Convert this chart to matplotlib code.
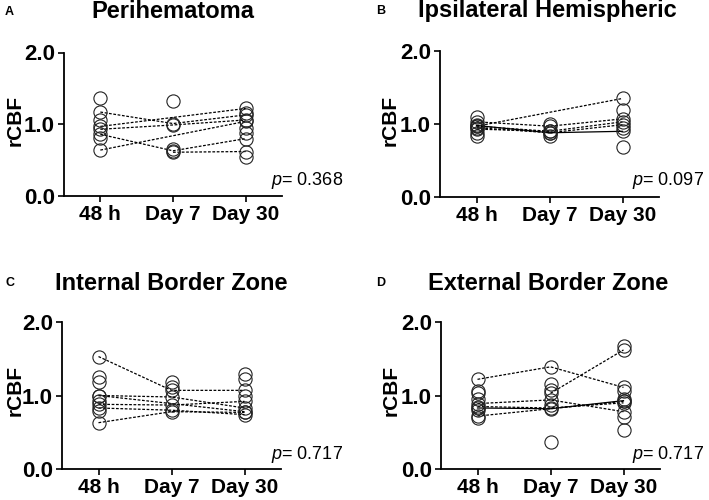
import numpy as np
import matplotlib.pyplot as plt

nan = np.nan

# categorias del eje x
grupos = ["48 h", "Day 7", "Day 30"]

# cada indice = un paciente (48 h, dia 7, dia 30); nan = sin medida
a_48h = [1.17, 0.97, 0.93, 0.86, 0.64, nan]
a_d7 = [1.01, nan, 0.99, 0.63, nan, 0.61]
a_d30 = [1.13, 1.22, 1.06, 0.80, 1.04, 0.62]
a_sueltos = [[1.37, 1.06, 0.81], [1.32, 0.66], [1.16, 0.95, 0.88, 0.54]]

b_48h = [0.97, 1.03, 0.97, 0.95, 0.98, 0.93]
b_d7 = [nan, 0.97, 0.90, 0.88, 0.88, 0.90]
b_d30 = [1.35, 1.07, 1.03, 0.99, 0.90, nan]
b_sueltos = [[1.09, 0.87, 0.83], [0.83, 1.00], [1.19, 0.95, 0.69]]

c_48h = [1.53, 1.00, 1.00, 0.88, 0.83, 0.63]
c_d7 = [1.07, nan, 0.98, 0.87, 0.80, 0.78]
c_d30 = [1.07, 0.78, 0.83, 0.92, 0.74, 0.77]
c_sueltos = [[1.25, 1.18, 0.92, 0.79], [1.18, 1.12], [1.29, 1.23, 1.00]]

d_48h = [1.22, nan, 0.89, 0.83, 0.85, 0.72]
d_d7 = [1.39, 1.03, 0.94, 0.82, 0.83, nan]
d_d30 = [1.11, 1.62, 0.78, 0.93, 0.90, 0.92]
d_sueltos = [[1.06, 1.03, 0.95, 0.80, 0.69], [1.16, 1.08, 0.87, 0.37],
             [1.68, 1.06, 0.71, 0.53, 0.95]]

titulos = ["Perihematoma", "Ipsilateral Hemispheric",
           "Internal Border Zone", "External Border Zone"]
letras = ["A", "B", "C", "D"]
p_valores = ["0.368", "0.097", "0.717", "0.717"]

plt.rcParams['font.family'] = ['Liberation Sans', 'DejaVu Sans']
plt.rcParams['mathtext.fontset'] = 'custom'
plt.rcParams['mathtext.it'] = 'Liberation Sans:italic'
plt.rcParams['mathtext.rm'] = 'Liberation Sans'

W, H = 709, 500
fig = plt.figure(figsize=(W / 100, H / 100), dpi=100)


def ejes_px(izq, arriba, der, abajo):
    return fig.add_axes([izq / W, 1 - abajo / H, (der - izq) / W, (abajo - arriba) / H])


def panel(ax, v48, v7, v30, sueltos, solida=None):
    x = np.arange(3)
    estilo = dict(color='black', lw=0.9, marker='o', ms=9.5, mfc='none',
                  mec='#222222', mew=0.8)
    for i, vals in enumerate(zip(v48, v7, v30)):
        vals = np.array(vals, dtype=float)
        ok = ~np.isnan(vals)
        ls = '-' if i == solida else (0, (2.2, 1.3))
        ax.plot(x[ok], vals[ok], linestyle=ls, **estilo)
    for xi, pts in enumerate(sueltos):
        ax.plot([xi] * len(pts), pts, linestyle='none', **estilo)
    ax.set_xlim(-0.5, 2.5)
    ax.set_ylim(0, 2)
    for s in ['top', 'right']:
        ax.spines[s].set_visible(False)
    for s in ['left', 'bottom']:
        ax.spines[s].set_linewidth(1.3)
    ax.set_yticks([0, 1, 2])
    ax.set_yticklabels(["0.0", "1.0", "2.0"], fontsize=16, fontweight='bold')
    ax.set_xticks(x)
    ax.set_xticklabels(grupos, fontsize=15, fontweight='bold')
    ax.tick_params(length=4, width=1.2, pad=2.5)


cajas = [(64, 52.5, 282, 196), (440, 51, 659, 197), (62, 322, 281, 469), (441, 322, 660, 469)]
datos = [(a_48h, a_d7, a_d30, a_sueltos, None),
         (b_48h, b_d7, b_d30, b_sueltos, 4),
         (c_48h, c_d7, c_d30, c_sueltos, None),
         (d_48h, d_d7, d_d30, d_sueltos, 3)]
pos_titulo = [(173, 12), (547, 11), (171, 283), (548, 283)]
pos_letra = [(5, 12), (376, 11), (5, 283), (376, 283)]
pos_p = [(271, 185), (632, 185), (271, 459), (632, 459)]
pos_ylab = [(15, 120), (390, 120), (15, 390), (391, 390)]

for k in range(4):
    ax = ejes_px(*cajas[k])
    panel(ax, *datos[k])
    fig.text(pos_titulo[k][0] / W, 1 - pos_titulo[k][1] / H, titulos[k],
             fontsize=17, fontweight='bold', ha='center', va='center')
    fig.text(pos_letra[k][0] / W, 1 - pos_letra[k][1] / H, letras[k],
             fontsize=9, fontweight='bold', ha='left', va='center')
    fig.text(pos_p[k][0] / W, 1 - pos_p[k][1] / H, r"$\it{p}$= " + p_valores[k],
             fontsize=13, ha='left', va='baseline')
    fig.text(pos_ylab[k][0] / W, 1 - pos_ylab[k][1] / H, "rCBF", rotation=90,
             fontsize=15, fontweight='bold', ha='center', va='center')

fig.savefig("out.png", dpi=100)
